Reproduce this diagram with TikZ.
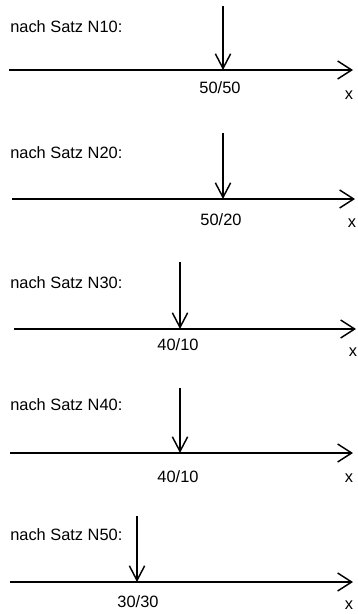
\documentclass[tikz,border=0pt]{standalone}
\usepackage{fontspec}
\setmainfont{Liberation Sans}
\usetikzlibrary{arrows.meta}
\begin{document}
\begin{tikzpicture}[x=0.75pt,y=-0.75pt,
  axisline/.style={line width=1.1pt,-{Straight Barb[length=10.5pt,width=13.5pt,line width=1.1pt]}},
  posarrow/.style={line width=1.1pt,-{Straight Barb[length=11pt,width=11.5pt,line width=1.1pt]}},
  lbl/.style={inner sep=0pt,font=\fontsize{12.3}{14}\selectfont},
  title/.style={lbl,anchor=west}]
\useasboundingbox (0,0) rectangle (357,614);
% Panel 1
\node[title] (t1) at (10,27) {nach Satz N10:};
\coordinate (s1) at (9,70); \coordinate (e1) at (353,70);
\coordinate (p1) at (223,6); \coordinate (q1) at (223,70);
\draw[axisline] (s1) -- (e1);
\draw[posarrow] (p1) -- (q1);
\node[lbl] (v1) at (220,88) {50/50};
\node[lbl] (x1) at (349,95) {x};
% Panel 2
\node[title] (t2) at (10,153) {nach Satz N20:};
\coordinate (s2) at (12,199); \coordinate (e2) at (355,199);
\coordinate (p2) at (223,133); \coordinate (q2) at (223,199);
\draw[axisline] (s2) -- (e2);
\draw[posarrow] (p2) -- (q2);
\node[lbl] (v2) at (221,220) {50/20};
\node[lbl] (x2) at (352,223) {x};
% Panel 3
\node[title] (t3) at (10,283) {nach Satz N30:};
\coordinate (s3) at (14,329); \coordinate (e3) at (356,329);
\coordinate (p3) at (180,262); \coordinate (q3) at (180,329);
\draw[axisline] (s3) -- (e3);
\draw[posarrow] (p3) -- (q3);
\node[lbl] (v3) at (178,345) {40/10};
\node[lbl] (x3) at (353,352) {x};
% Panel 4
\node[title] (t4) at (10,405) {nach Satz N40:};
\coordinate (s4) at (10,453); \coordinate (e4) at (353,453);
\coordinate (p4) at (180,388); \coordinate (q4) at (180,453);
\draw[axisline] (s4) -- (e4);
\draw[posarrow] (p4) -- (q4);
\node[lbl] (v4) at (178,477) {40/10};
\node[lbl] (x4) at (349,478) {x};
% Panel 5
\node[title] (t5) at (10,535) {nach Satz N50:};
\coordinate (s5) at (10,582); \coordinate (e5) at (353,582);
\coordinate (p5) at (137,516); \coordinate (q5) at (137,582);
\draw[axisline] (s5) -- (e5);
\draw[posarrow] (p5) -- (q5);
\node[lbl] (v5) at (138,602) {30/30};
\node[lbl] (x5) at (349,605) {x};
\end{tikzpicture}
\end{document}
